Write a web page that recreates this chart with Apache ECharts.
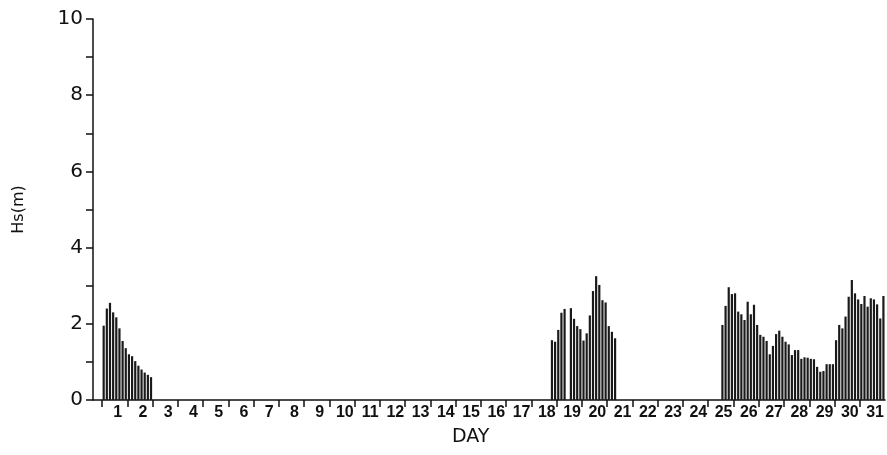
<!DOCTYPE html>
<html>
<head>
<meta charset="utf-8">
<script src="https://cdn.jsdelivr.net/npm/echarts@6/dist/echarts.min.js"></script>
<style>
html,body{margin:0;padding:0;background:#fff;}
#chart{width:887px;height:455px;}
</style>
</head>
<body>
<div id="chart"></div>
<script>
// Day labels on the x axis
const dayLabels = Array.from({length: 31}, (_, i) => String(i + 1));
// y tick labels
const yTickLabels = [0, 2, 4, 6, 8, 10];
// samples per day (3-hourly)
const samplesPerDay = 8;

// Segment 1: starts at sample index 0 (day 1)
const seg1Start = 0;
const seg1Values = [1.95, 2.40, 2.55, 2.30, 2.17, 1.88, 1.55, 1.36,
                    1.20, 1.15, 1.02, 0.90, 0.80, 0.72, 0.66, 0.60];

// Segment 2: starts late on day 18
const seg2Start = 142;
const seg2Values = [1.57, 1.53, 1.84, 2.29, 2.39, 0, 2.41, 2.13, 1.94, 1.86,
                    1.56, 1.75, 2.22, 2.86, 3.25, 3.02, 2.62, 2.56, 1.94, 1.79, 1.62];

// Segment 3: starts mid day 25
const seg3Start = 196;
const seg3Values = [1.97, 2.47, 2.96, 2.78, 2.80, 2.32, 2.25, 2.10, 2.58, 2.25,
                    2.50, 1.97, 1.71, 1.66, 1.55, 1.20, 1.42, 1.73, 1.82, 1.66,
                    1.53, 1.46, 1.18, 1.31, 1.31, 1.08, 1.12, 1.11, 1.08, 1.07,
                    0.87, 0.74, 0.76, 0.94, 0.94, 0.94, 1.57, 1.97, 1.88, 2.19,
                    2.71, 3.15, 2.80, 2.64, 2.52, 2.73, 2.45, 2.67, 2.64, 2.51,
                    2.14, 2.73];

function buildSeg(start, vals) {
  return vals.map((v, i) => [(start + i + 0.5) / samplesPerDay, v]);
}
const barData = [].concat(
  buildSeg(seg1Start, seg1Values),
  buildSeg(seg2Start, seg2Values),
  buildSeg(seg3Start, seg3Values)
);

const chart = echarts.init(document.getElementById('chart'), null, {renderer: 'canvas'});
const ink = '#111';
const option = {
  animation: false,
  backgroundColor: '#fff',
  grid: [
    {left: 93, right: 2, top: 19, bottom: 55},
    {left: 102, right: 2, top: 19, bottom: 55},
    {left: 102, right: 27.2, top: 19, bottom: 55}
  ],
  xAxis: [
    {type: 'value', gridIndex: 0, min: -0.36, max: 31,
     axisLine: {show: true, onZero: false, lineStyle: {color: ink, width: 1.5}},
     axisTick: {show: false}, axisLabel: {show: false}, splitLine: {show: false}},
    {type: 'category', gridIndex: 1, data: dayLabels, boundaryGap: true,
     axisLine: {show: false}, axisTick: {show: false}, splitLine: {show: false},
     axisLabel: {show: true, interval: 0, margin: 5, color: ink, padding: [0, 0, 0, 6],
                 fontFamily: 'Liberation Sans', fontWeight: 'bold', fontSize: 16}},
    {type: 'category', gridIndex: 2, data: dayLabels, boundaryGap: false,
     axisLine: {show: false}, splitLine: {show: false}, axisLabel: {show: false},
     axisTick: {show: true, interval: 0, length: 7, lineStyle: {color: ink, width: 1.5}}}
  ],
  yAxis: [
    {type: 'value', gridIndex: 0, min: 0, max: 10, interval: 1,
     axisLine: {show: true, onZero: false, lineStyle: {color: ink, width: 1.5}},
     axisTick: {show: true, length: 7, lineStyle: {color: ink, width: 1.5}},
     splitLine: {show: false},
     axisLabel: {margin: 10, color: ink, fontFamily: 'DejaVu Sans', fontSize: 20,
                 formatter: v => (yTickLabels.indexOf(v) >= 0 ? String(v) : '')},
     name: 'Hs(m)', nameLocation: 'middle', nameGap: 66, nameRotate: 90,
     nameTextStyle: {color: ink, fontFamily: 'DejaVu Sans', fontSize: 16}},
    {type: 'value', gridIndex: 1, show: false, min: 0, max: 10},
    {type: 'value', gridIndex: 2, show: false, min: 0, max: 10}
  ],
  graphic: [
    {type: 'text', left: 452, top: 428,
     style: {text: 'DAY', fill: ink, font: '19px "DejaVu Sans"'}}
  ],
  series: [
    {type: 'bar', xAxisIndex: 0, yAxisIndex: 0, data: barData,
     barWidth: 2.2, itemStyle: {color: '#1a1a1a'}, silent: true}
  ]
};
chart.setOption(option);
</script>
</body>
</html>
